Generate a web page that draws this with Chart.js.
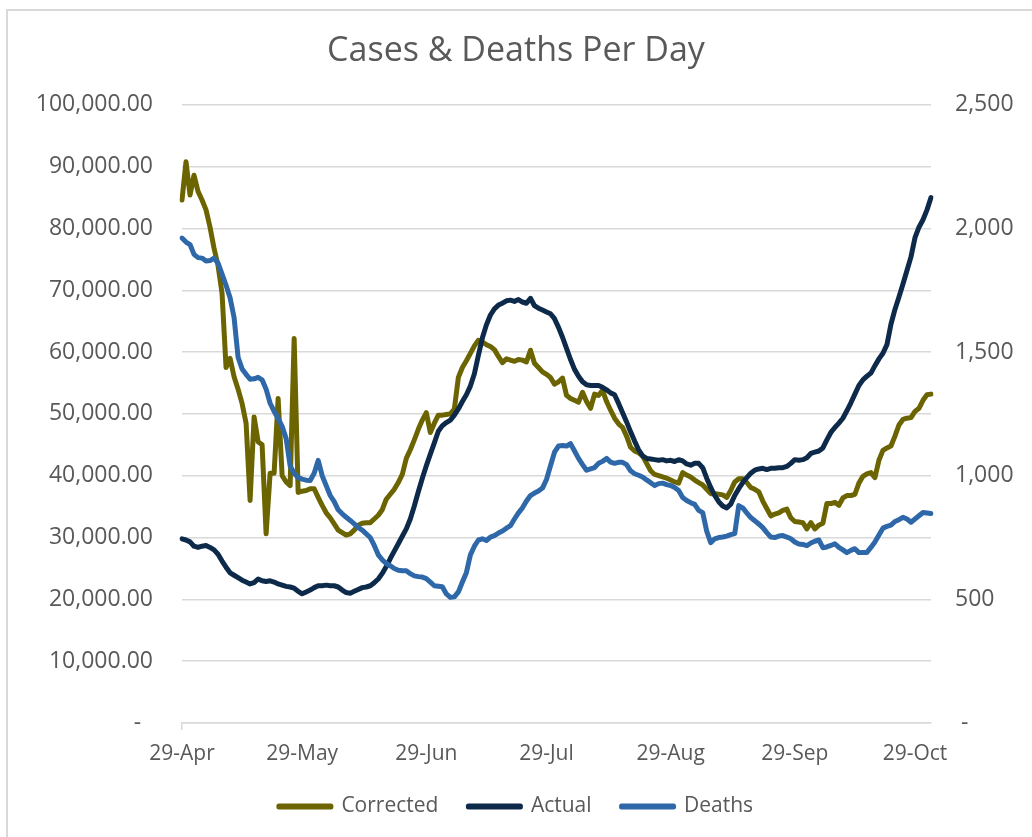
<!DOCTYPE html>
<html>
<head>
<meta charset="utf-8">
<title>Cases & Deaths Per Day</title>
<script src="https://cdn.jsdelivr.net/npm/chart.js@4.4.0/dist/chart.umd.min.js"></script>
<style>
  html, body { margin: 0; padding: 0; background: #fff; overflow: hidden; }
  #wrap { position: relative; width: 1032px; height: 837px; }
  #frame { position: absolute; left: 6px; top: 9px; width: 1040px; height: 840px;
           border: 2px solid #d9d9d9; box-sizing: border-box; pointer-events: none; }
  canvas { position: absolute; left: 0; top: 0; }
</style>
</head>
<body>
<div id="wrap">
  <canvas id="chart" width="1032" height="837"></canvas>
  <div id="frame"></div>
</div>
<script>
// daily values, 29-Apr to 2-Nov
var startDate = new Date(2020, 3, 29);
var monthNames = ['Jan','Feb','Mar','Apr','May','Jun','Jul','Aug','Sep','Oct','Nov','Dec'];
var tickLabels = ['29-Apr', '29-May', '29-Jun', '29-Jul', '29-Aug', '29-Sep', '29-Oct'];

var corrected = [
  84600,90800,85400,88600,86000,84600,83000,80200,76800,74000,
  69500,57500,59000,56000,54000,51700,48500,36000,49500,45500,
  45000,30600,40400,40400,52500,40000,39000,38400,62200,37300,
  37500,37600,37900,37900,36500,35200,34000,33200,32200,31200,
  30800,30400,30600,31200,32000,32300,32400,32400,33000,33600,
  34500,36200,37000,37800,38900,40200,42800,44200,45800,47500,
  49000,50200,47000,48500,49800,49800,49900,50000,50800,55900,
  57500,58600,59800,61000,61900,61600,61200,60900,60400,59300,
  58300,58900,58700,58500,58800,58700,58400,60300,58200,57500,
  56800,56400,55900,54800,55200,55800,53000,52500,52200,51900,
  53500,52000,50900,53200,53000,53800,52000,50600,49300,48400,
  47800,46400,44600,44000,43700,43200,42000,40800,40200,40000,
  39800,39600,39300,39000,38800,40500,40100,39800,39300,38900,
  38500,37800,37100,37100,37000,36900,36500,37600,39000,39500,
  39500,38900,38100,37800,37400,35900,34700,33500,33800,34000,
  34400,34600,33200,32600,32500,32400,31400,32400,31400,32000,
  32300,35500,35500,35700,35200,36400,36800,36800,37000,38800,
  39900,40300,40500,39700,42500,44100,44500,44800,46400,48200,
  49100,49300,49400,50400,50900,52200,53100,53200
];

var actual = [
  29800,29600,29300,28600,28400,28600,28700,28400,28000,27300,
  26200,25200,24300,23900,23500,23100,22800,22500,22700,23300,
  23000,22900,23000,22800,22500,22300,22100,22000,21800,21300,
  20900,21200,21500,21900,22200,22200,22300,22200,22200,22000,
  21500,21100,21000,21300,21600,21900,22000,22200,22700,23300,
  24200,25300,26600,27800,29000,30200,31400,33000,35100,37400,
  39600,41600,43500,45300,47200,48100,48600,49000,49800,50800,
  52000,53100,54500,56500,59500,62300,64400,66000,67000,67600,
  67900,68300,68400,68200,68500,68100,67900,68700,67500,67100,
  66800,66500,66200,65400,64000,62400,60600,58800,57200,56100,
  55200,54700,54600,54600,54600,54300,53900,53400,53100,51700,
  50200,48700,47100,45600,44200,43200,42800,42700,42600,42500,
  42600,42400,42500,42300,42600,42400,41900,41700,42000,42000,
  41300,39600,38100,36800,35800,35100,34800,35400,36800,37900,
  38900,39700,40400,40900,41100,41200,41000,41200,41200,41300,
  41300,41500,42000,42600,42500,42600,42900,43600,43800,44000,
  44500,45800,47000,47800,48500,49300,50500,51800,53200,54600,
  55500,56100,56600,57800,58900,59800,61200,64500,66900,68900,
  71000,73200,75400,78500,80200,81400,83000,85000
];

var deaths = [
  1961,1945,1935,1895,1882,1880,1868,1870,1880,1860,
  1815,1770,1720,1640,1479,1432,1410,1390,1392,1398,
  1388,1350,1293,1260,1232,1200,1150,1040,1010,992,
  986,982,981,1010,1062,1000,960,920,895,862,
  846,832,819,805,790,780,765,750,718,680,
  660,645,636,625,618,616,616,604,595,592,
  590,584,570,555,553,551,522,508,510,530,
  570,608,680,715,740,745,738,752,758,768,
  776,788,798,825,850,870,898,920,930,938,
  950,985,1040,1095,1120,1122,1120,1130,1100,1070,
  1045,1022,1028,1033,1050,1058,1070,1055,1050,1054,
  1054,1045,1020,1008,1002,995,983,972,960,968,
  970,964,960,952,940,912,900,891,884,860,
  851,776,729,745,750,752,756,762,766,879,
  870,850,831,818,805,790,770,752,750,756,
  758,752,745,732,724,722,717,728,735,740,
  709,712,718,725,710,700,689,698,705,689,
  690,690,710,732,760,788,795,800,815,822,
  832,825,812,825,838,851,849,847
];

var days = [];
for (var i = 0; i < actual.length; i++) {
  var d = new Date(startDate.getFullYear(), startDate.getMonth(), startDate.getDate() + i);
  days.push(d.getDate() + '-' + monthNames[d.getMonth()]);
}

var grey = '#595959';
var gridGrey = '#d9d9d9';
var fontFamily = '"Open Sans", Roboto, sans-serif';

function lineSet(label, data, color, axis, order) {
  return {
    label: label,
    data: data,
    yAxisID: axis,
    borderColor: color,
    backgroundColor: color,
    borderWidth: 5,
    borderCapStyle: 'round',
    borderJoinStyle: 'round',
    pointRadius: 0,
    pointHoverRadius: 0,
    tension: 0,
    order: order
  };
}

var ctx = document.getElementById('chart').getContext('2d');
new Chart(ctx, {
  type: 'line',
  data: {
    labels: days,
    datasets: [
      lineSet('Corrected', corrected, '#6b6400', 'y', 3),
      lineSet('Actual', actual, '#0e2a4b', 'y', 2),
      lineSet('Deaths', deaths, '#2f68a8', 'y1', 1)
    ]
  },
  options: {
    responsive: false,
    animation: false,
    devicePixelRatio: 1,
    layout: { padding: { left: 0, right: 0, top: 0, bottom: 10 } },
    plugins: {
      title: {
        display: true,
        text: 'Cases & Deaths Per Day',
        color: grey,
        font: { family: fontFamily, size: 34, weight: 'normal', lineHeight: 1.2 },
        padding: { top: 31, bottom: 33 }
      },
      legend: {
        position: 'bottom',
        labels: {
          color: grey,
          font: { family: fontFamily, size: 21 },
          boxWidth: 52,
          boxHeight: 1,
          padding: 30,
          sort: function (a, b) { return a.datasetIndex - b.datasetIndex; }
        }
      },
      tooltip: { enabled: false }
    },
    scales: {
      x: {
        type: 'category',
        offset: false,
        afterFit: function (scale) { scale.height = 43; },
        grid: {
          drawOnChartArea: false,
          drawTicks: true,
          tickLength: 7,
          lineWidth: 1.5,
          color: function (c) {
            return tickLabels.indexOf(days[c.index]) >= 0 ? gridGrey : 'rgba(0,0,0,0)';
          }
        },
        border: { display: true, color: gridGrey, width: 1.5 },
        ticks: {
          autoSkip: false,
          maxRotation: 0,
          minRotation: 0,
          padding: 11,
          color: grey,
          font: { family: fontFamily, size: 21 },
          callback: function (val, idx) {
            return tickLabels.indexOf(days[idx]) >= 0 ? days[idx] : null;
          }
        }
      },
      y: {
        position: 'left',
        min: 0,
        max: 100000,
        afterFit: function (scale) { scale.width = 182; },
        grid: { color: gridGrey, lineWidth: 1.5, drawTicks: false },
        border: { display: false },
        ticks: {
          stepSize: 10000,
          padding: 29,
          color: grey,
          font: { family: fontFamily, size: 23 },
          callback: function (v) {
            if (v === 0) return '-  ';
            return v.toLocaleString('en-US', { minimumFractionDigits: 2, maximumFractionDigits: 2 });
          }
        }
      },
      y1: {
        position: 'right',
        min: 0,
        max: 2500,
        afterFit: function (scale) { scale.width = 101; },
        grid: { display: false, drawTicks: false },
        border: { display: false },
        ticks: {
          stepSize: 500,
          padding: 24,
          color: grey,
          font: { family: fontFamily, size: 23 },
          callback: function (v) {
            if (v === 0) return ' -';
            return v.toLocaleString('en-US');
          }
        }
      }
    }
  }
});
</script>
</body>
</html>
